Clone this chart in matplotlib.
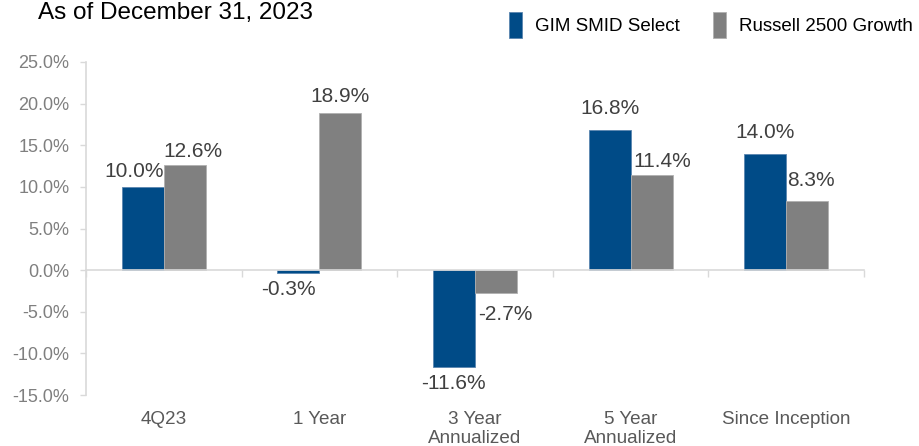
import numpy as np
import matplotlib.pyplot as plt
from matplotlib.ticker import FuncFormatter


# data
categories = ['4Q23', '1 Year', '3 Year\nAnnualized', '5 Year\nAnnualized', 'Since Inception']
gim = [10.0, -0.3, -11.6, 16.8, 14.0]
russell = [12.6, 18.9, -2.7, 11.4, 8.3]
series_names = ['GIM SMID Select', 'Russell 2500 Growth']

blue = '#004B87'
grey = '#808080'

plt.rcParams['font.family'] = ['Liberation Sans', 'DejaVu Sans']

fig = plt.figure(figsize=(9.19, 4.46), dpi=100)
ax = fig.add_axes([0.0936, 0.1143, 0.8464, 0.7467])

x = np.arange(len(categories))
w = 0.27

b1 = ax.bar(x - w / 2, gim, w, color=blue, edgecolor='#5b86b0', linewidth=0.6, label=series_names[0])
b2 = ax.bar(x + w / 2, russell, w, color=grey, edgecolor='#b0b0b0', linewidth=0.6, label=series_names[1])


# value labels above positive bars, below negative ones
# nudges (points) keep labels clear of the neighbouring bar, like Excel does
nudge = {(0, 0): (-6, 4), (0, 1): (-7, -5), (1, 0): (6, 3),
         (1, 2): (7, -9), (1, 3): (8, 3), (1, 4): (3, 8),
         (0, 3): (0, 9), (0, 4): (0, 8)}
for s, (bars, vals) in enumerate([(b1, gim), (b2, russell)]):
    for i, (bar, v) in enumerate(zip(bars, vals)):
        xc = bar.get_x() + bar.get_width() / 2
        dx, dy = nudge.get((s, i), (0, 5 if v >= 0 else -5))
        ax.annotate(f'{v:.1f}%', (xc, v), xytext=(dx, dy), textcoords='offset points',
                    ha='center', va='bottom' if v >= 0 else 'top', fontsize=15, color='#404040')


ax.set_xlim(-0.5, len(categories) - 0.5)
ax.set_ylim(-15, 25)
ax.set_yticks(np.arange(-15, 26, 5))
ax.yaxis.set_major_formatter(FuncFormatter(lambda v, p: f'{v:.1f}%'))
ax.tick_params(axis='y', labelsize=13, colors='#d9d9d9', labelcolor='#7f7f7f', length=4, width=1, pad=8)

# x axis sits at zero, ticks at category boundaries
ax.spines['bottom'].set_position(('data', 0))
ax.spines['bottom'].set_color('#d9d9d9')
ax.spines['bottom'].set_linewidth(1.2)
ax.spines['left'].set_color('#d9d9d9')
ax.spines['left'].set_linewidth(1.2)
ax.spines['top'].set_visible(False)
ax.spines['right'].set_visible(False)

ax.set_xticks(np.arange(len(categories) + 1) - 0.5)
ax.set_xticklabels([])
ax.tick_params(axis='x', colors='#d9d9d9', length=5, width=1, direction='out')

for i, c in enumerate(categories):
    ax.text(i, -16.9, c, ha='center', va='top', fontsize=13.6,
            color='#595959', linespacing=1.2)


fig.text(0.041, 0.995, 'As of December 31, 2023', fontsize=17.5, va='top', ha='left', color='black')

fig.legend(handles=[b1, b2], labels=series_names, loc='upper right', bbox_to_anchor=(1.012, 1.012),
           ncol=2, frameon=False, handlelength=0.7, handleheight=1.8, handletextpad=0.7,
           columnspacing=1.75, prop={'size': 13.5})

plt.savefig('out.png', dpi=100)
